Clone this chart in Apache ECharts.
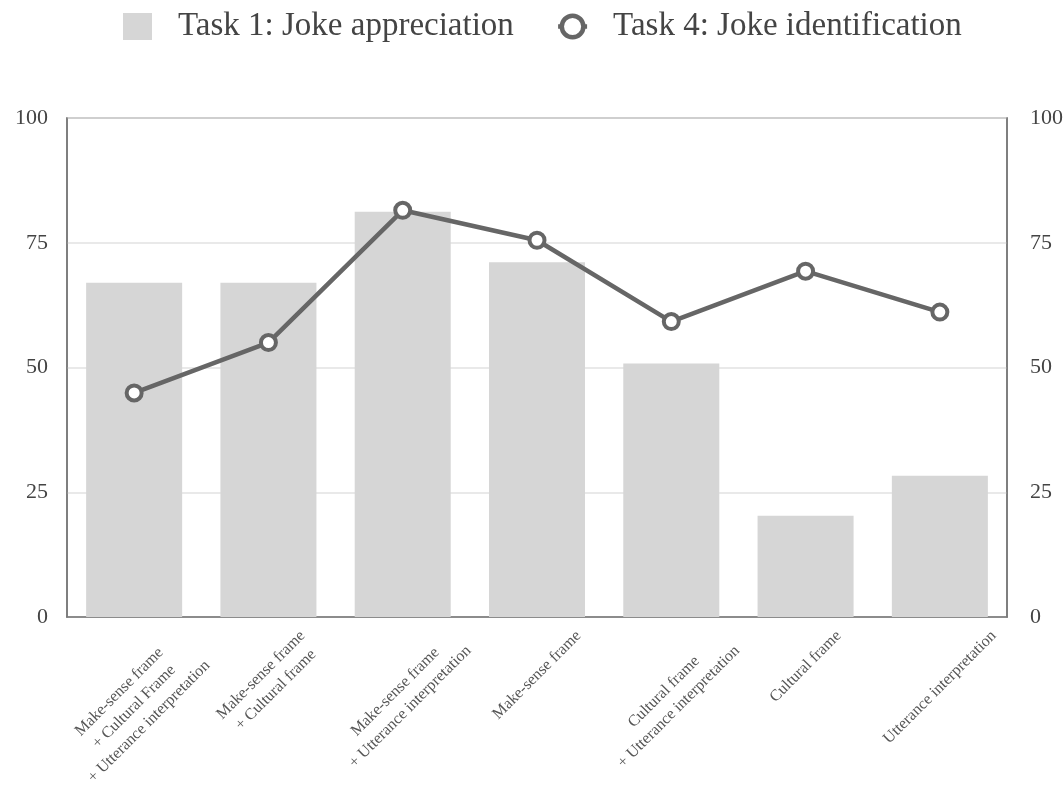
<!DOCTYPE html>
<html>
<head>
<meta charset="utf-8">
<script src="https://cdn.jsdelivr.net/npm/echarts@6/dist/echarts.min.js"></script>
<style>html,body{margin:0;padding:0;background:#fff}#c{width:1063px;height:787px}</style>
</head>
<body>
<div id="c"></div>
<script>
const categories = [
  "Make-sense frame\n+ Cultural Frame\n+ Utterance interpretation",
  "Make-sense frame\n+ Cultural frame",
  "Make-sense frame\n+ Utterance interpretation",
  "Make-sense frame",
  "Cultural frame\n+ Utterance interpretation",
  "Cultural frame",
  "Utterance interpretation"
];
const task1Values = [67, 67, 81.2, 71.1, 50.8, 20.3, 28.3];
const task4Values = [44.9, 55.0, 81.5, 75.5, 59.2, 69.3, 61.1];
const yTicks = [0, 25, 50, 75, 100];

const font = "Liberation Serif, Times New Roman, serif";
const xFontSize = 16, xLineHeight = 21;

const chart = echarts.init(document.getElementById('c'));
chart.setOption({
  animation: false,
  textStyle: { fontFamily: font },
  legend: {
    top: 5,
    left: 118,
    itemWidth: 29,
    itemHeight: 27,
    itemGap: 42,
    textStyle: { fontFamily: font, fontSize: 33, color: '#444', padding: [0, 0, 0, 21] },
    data: [
      { name: 'Task 1: Joke appreciation', icon: 'rect' },
      { name: 'Task 4: Joke identification',
        itemStyle: { color: '#fff', borderColor: '#666', borderWidth: 4.5 },
        lineStyle: { color: '#666', width: 4.5 } }
    ]
  },
  grid: {
    left: 67, right: 56, top: 118, bottom: 170,
    outerBoundsMode: 'none', containLabel: false,
    show: true, borderColor: '#777', borderWidth: 1.5, backgroundColor: 'transparent'
  },
  xAxis: {
    type: 'category',
    data: categories,
    axisLine: { lineStyle: { color: '#777', width: 1.5 } },
    axisTick: { show: false },
    axisLabel: { show: false }
  },
  yAxis: [
    {
      type: 'value', min: 0, max: 100, interval: 25,
      axisLine: { show: true, lineStyle: { color: '#777', width: 1.5 } },
      axisTick: { show: false },
      splitLine: { lineStyle: { color: '#e2e2e2', width: 1.5 } },
      axisLabel: { fontFamily: font, fontSize: 22, color: '#444', margin: 19,
        formatter: v => yTicks.includes(v) ? String(v) : '' }
    },
    {
      type: 'value', min: 0, max: 100, interval: 25, position: 'right',
      axisLine: { show: true, lineStyle: { color: '#777', width: 1.5 } },
      axisTick: { show: false },
      splitLine: { show: false },
      axisLabel: { fontFamily: font, fontSize: 22, color: '#444', margin: 23,
        formatter: v => yTicks.includes(v) ? String(v) : '' }
    }
  ],
  series: [
    {
      name: 'Task 1: Joke appreciation',
      type: 'bar',
      data: task1Values,
      barWidth: '71.5%',
      itemStyle: { color: '#d6d6d6' }
    },
    {
      name: 'Task 4: Joke identification',
      type: 'line',
      yAxisIndex: 1,
      data: task4Values,
      symbol: 'circle',
      symbolSize: 15,
      lineStyle: { color: '#666', width: 4.5 },
      itemStyle: { color: '#fff', borderColor: '#666', borderWidth: 4 }
    }
  ]
});

// Category labels: rotated 45°, lines centred, each rotated block centred under its tick
const ctx = document.createElement('canvas').getContext('2d');
ctx.font = xFontSize + 'px ' + font;
const axisY = chart.convertToPixel({ yAxisIndex: 0 }, 0);
const labelTop = axisY + 9;
const s = Math.SQRT1_2 / 2;
const labels = categories.map((c, i) => {
  const lines = c.split('\n');
  const W = Math.max(...lines.map(l => ctx.measureText(l).width));
  const H = lines.length * xLineHeight;
  const tx = chart.convertToPixel({ xAxisIndex: 0 }, i);
  return {
    type: 'text',
    x: tx,
    y: labelTop + s * (W + H),
    rotation: Math.PI / 4,
    silent: true,
    style: {
      text: c, fontFamily: font, fontSize: xFontSize, lineHeight: xLineHeight,
      fill: '#555', align: 'center', verticalAlign: 'middle'
    }
  };
});
chart.setOption({ graphic: { elements: labels } });
</script>
</body>
</html>
